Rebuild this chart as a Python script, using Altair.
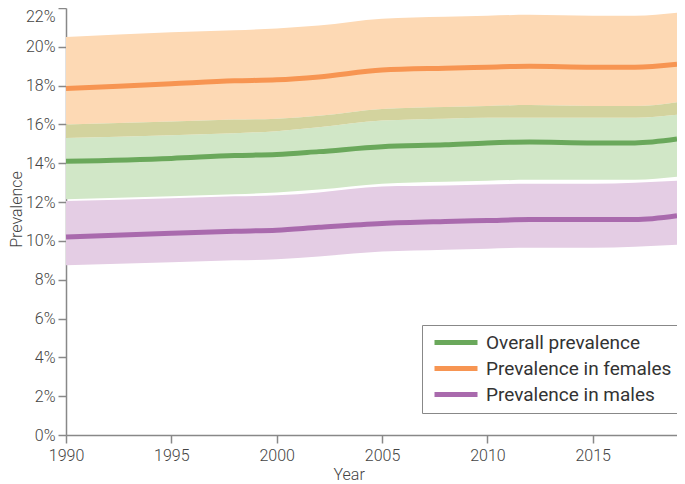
import altair as alt
import pandas as pd

years = [1990, 1995, 1998, 2000, 2002, 2005, 2008, 2010, 2012, 2015, 2017, 2019]

fem_lo  = [16.0, 16.15, 16.25, 16.3, 16.45, 16.8, 16.9, 16.95, 17.0, 16.95, 16.95, 17.15]
fem_mid = [17.85, 18.1, 18.25, 18.3, 18.45, 18.8, 18.9, 18.95, 19.0, 18.95, 18.95, 19.1]
fem_hi  = [20.5, 20.75, 20.85, 20.95, 21.1, 21.45, 21.55, 21.6, 21.65, 21.6, 21.6, 21.75]

all_lo  = [12.15, 12.3, 12.4, 12.5, 12.65, 12.95, 13.05, 13.1, 13.15, 13.15, 13.15, 13.3]
all_mid = [14.1, 14.25, 14.4, 14.45, 14.6, 14.85, 14.95, 15.05, 15.1, 15.05, 15.05, 15.25]
all_hi  = [15.3, 15.45, 15.55, 15.65, 15.85, 16.2, 16.3, 16.35, 16.35, 16.35, 16.35, 16.5]

mal_lo  = [8.75, 8.9, 9.0, 9.05, 9.2, 9.45, 9.55, 9.6, 9.65, 9.65, 9.7, 9.8]
mal_mid = [10.2, 10.4, 10.5, 10.55, 10.7, 10.9, 11.0, 11.05, 11.1, 11.1, 11.1, 11.3]
mal_hi  = [12.05, 12.2, 12.3, 12.35, 12.5, 12.8, 12.85, 12.9, 12.95, 12.95, 13.0, 13.1]

x_ticks = [1990, 1995, 2000, 2005, 2010, 2015]
y_ticks = [0, 2, 4, 6, 8, 10, 12, 14, 16, 18, 20, 22]

series = ["Overall prevalence", "Prevalence in females", "Prevalence in males"]
line_colors = ["#6aa85b", "#f79552", "#a96aad"]
band_colors = ["#d1e7c7", "#fdd9b4", "#e4cde4"]
overlap_color = "#d3d39e"

rows = []
for name, lo, mid, hi in [(series[0], all_lo, all_mid, all_hi),
                          (series[1], fem_lo, fem_mid, fem_hi),
                          (series[2], mal_lo, mal_mid, mal_hi)]:
    for y, a, b, c in zip(years, lo, mid, hi):
        rows.append({"year": y, "series": name, "lo": a, "mid": b, "hi": c})
df = pd.DataFrame(rows)

ov = pd.DataFrame({"year": years, "lo": fem_lo, "hi": all_hi})

FONT = "Roboto"
x_axis = alt.Axis(values=x_ticks, format="d", title="Year",
                  titleX=267, titleY=44, titleAlign="left", titleBaseline="alphabetic",
                  titleAnchor="start", labelFlush=False, labelOverlap=False,
                  tickSize=8, labelPadding=4, grid=False)
y_axis = alt.Axis(values=y_ticks, labelExpr="datum.value + '%'", labelOverlap=False,
                  labelBaseline={"condition": {"test": "datum.value == 22", "value": "top"},
                                 "value": "middle"},
                  title="Prevalence", titleX=-50, titleY=201, titleAngle=-90,
                  titleAlign="center", titleBaseline="middle",
                  tickSize=8, labelPadding=3, grid=False)
x_scale = alt.Scale(domain=[1990, 2019], nice=False, zero=False)
y_scale = alt.Scale(domain=[0, 22], nice=False)

def X():
    return alt.X("year:Q", scale=x_scale, axis=x_axis)

def Y(field):
    return alt.Y(field, scale=y_scale, axis=y_axis)

def band(name, color):
    return alt.Chart(df).transform_filter(alt.datum.series == name).mark_area(
        color=color, interpolate="monotone").encode(x=X(), y=Y("lo:Q"), y2="hi:Q")

areas = [band(series[1], band_colors[1]), band(series[0], band_colors[0])]
overlap = alt.Chart(ov).mark_area(color=overlap_color, interpolate="monotone").encode(
    x=X(), y=Y("lo:Q"), y2="hi:Q")
areas.append(overlap)
areas.append(band(series[2], band_colors[2]))

lines = alt.Chart(df).mark_line(strokeWidth=5, interpolate="monotone").encode(
    x=X(), y=Y("mid:Q"),
    color=alt.Color("series:N", sort=series,
                    scale=alt.Scale(domain=series, range=line_colors),
                    legend=alt.Legend(title=None, orient="none", legendX=356, legendY=317,
                                      symbolType="stroke", symbolSize=1849, clipHeight=19,
                                      symbolStrokeWidth=5, symbolOffset=2,
                                      labelFontSize=19, labelFont=FONT, labelColor="#333",
                                      labelLimit=400,
                                      labelOffset=6, rowPadding=6, padding=8,
                                      strokeColor="#888", fillColor="white")))

chart = alt.layer(*areas, lines).properties(
    width=611, height=427,
    autosize=alt.AutoSizeParams(type="none"),
    padding={"left": 58, "top": 0, "right": 0, "bottom": 49},
).configure_view(stroke=None).configure_axis(
    labelFont=FONT, titleFont=FONT, labelFontSize=16, titleFontSize=16,
    labelColor="#444", titleColor="#444", labelFontWeight=300, titleFontWeight=300,
    domainColor="#888", tickColor="#888", domainWidth=1.5, tickWidth=1.5,
)

chart.save("out.html", embed_options={"renderer": "svg", "actions": False})
